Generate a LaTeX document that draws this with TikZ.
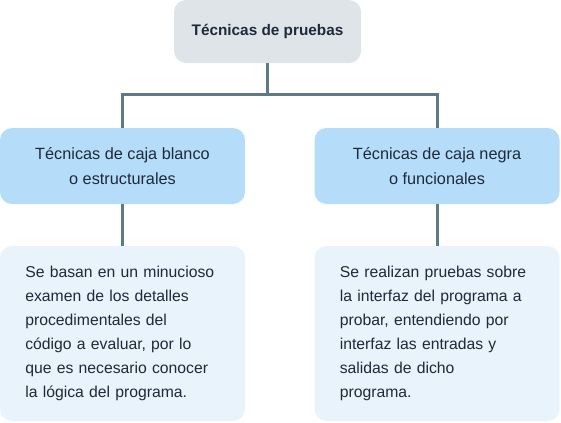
\documentclass[tikz,border=0pt]{standalone}
\usepackage{fontspec}
\setmainfont{Liberation Sans}
\usepackage{tikz}
\usetikzlibrary{arrows.meta}
\definecolor{rootfill}{HTML}{DFE4E8}
\definecolor{headfill}{HTML}{B5DCF8}
\definecolor{notefill}{HTML}{E8F3FC}
\definecolor{linkcol}{HTML}{5F7A87}
\definecolor{inkcol}{HTML}{1E2A3B}

\begin{document}
\begin{tikzpicture}[
        x=0.75pt, y=-0.75pt,
        root/.style={fill=rootfill, rounded corners=9pt, align=center,
                    font=\bfseries\fontsize{11.5}{16}\selectfont, text=inkcol,
                    minimum height=47.25pt, minimum width=140.25pt},
        head/.style={fill=headfill, rounded corners=9pt, align=center,
                    font=\fontsize{12.2}{19}\selectfont, text=inkcol,
                    minimum height=57pt, minimum width=183.75pt},
        note/.style={fill=notefill, rounded corners=9pt, align=left,
                    font=\fontsize{11.8}{18}\selectfont, text=inkcol,
                    text width=145.75pt, inner xsep=19pt,
                    minimum height=131.25pt, minimum width=183.75pt},
        link/.style={draw=linkcol, line width=2.25pt}
    ]
        \useasboundingbox (0,0) rectangle (561,422);

        \node[root] (root)  at (267.5,  31.5) {Técnicas de pruebas};
        \node[head] (white) at (122.5, 166.0) {Técnicas de caja blanco\\o estructurales};
        \node[head] (black) at (437.0, 166.0) {Técnicas de caja negra\\o funcionales};
        \node[note] (wnote) at (122.5, 333.5) {Se basan en un minucioso\\examen de los detalles\\procedimentales del\\código a evaluar, por lo\\que es necesario conocer\\la lógica del programa.};
        \node[note] (bnote) at (437.0, 333.5) {Se realizan pruebas sobre\\la interfaz del programa a\\probar, entendiendo por\\interfaz las entradas y\\salidas de dicho\\programa.};

        \coordinate (split) at (267.5, 94.5);

        \draw[link] (root.south) -- (split);
        \draw[link] (split) -| (white.north);
        \draw[link] (split) -| (black.north);
        \draw[link] (white) -- (wnote);
        \draw[link] (black) -- (bnote);
    \end{tikzpicture}
\end{document}
